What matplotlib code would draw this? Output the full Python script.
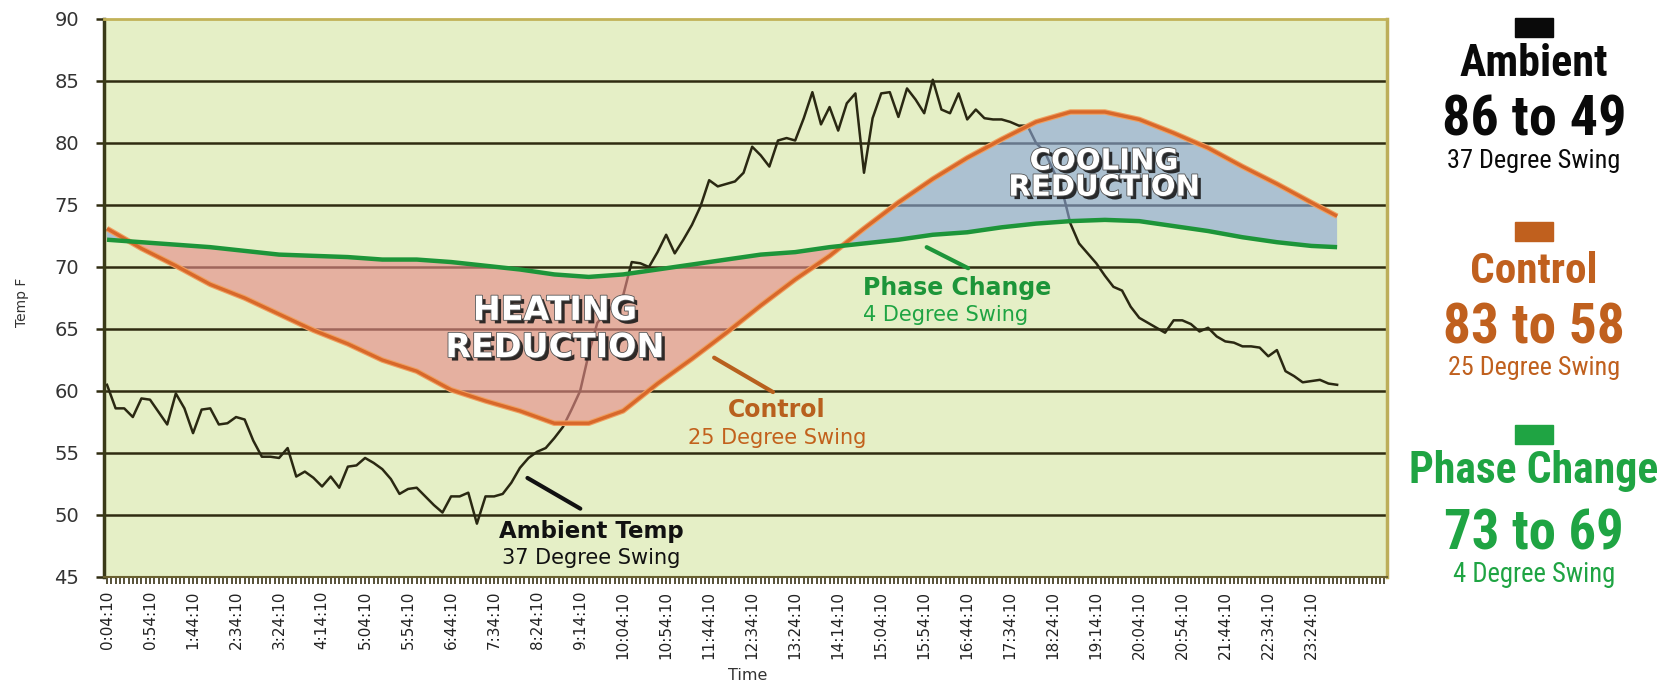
import numpy as np
import matplotlib
matplotlib.use("Agg")
import matplotlib.pyplot as plt
from matplotlib import patheffects as pe
from matplotlib.patches import Rectangle

# ---------------- data ----------------
time_labels = ["0:04:10", "0:54:10", "1:44:10", "2:34:10", "3:24:10", "4:14:10",
               "5:04:10", "5:54:10", "6:44:10", "7:34:10", "8:24:10", "9:14:10",
               "10:04:10", "10:54:10", "11:44:10", "12:34:10", "13:24:10", "14:14:10",
               "15:04:10", "15:54:10", "16:44:10", "17:34:10", "18:24:10", "19:14:10",
               "20:04:10", "20:54:10", "21:44:10", "22:34:10", "23:24:10"]
samples_per_label = 5          # one sample every 10 minutes, label every 50 minutes

ambient_temp = [60.5, 58.6, 58.6, 57.9, 59.4, 59.3, 58.3, 57.3, 59.8, 58.6,
                56.6, 58.5, 58.6, 57.3, 57.4, 57.9, 57.7, 56.0, 54.7, 54.7,
                54.6, 55.4, 53.1, 53.5, 53.0, 52.3, 53.1, 52.2, 53.9, 54.0,
                54.6, 54.2, 53.7, 52.9, 51.7, 52.1, 52.2, 51.5, 50.8, 50.2,
                51.5, 51.5, 51.8, 49.3, 51.5, 51.5, 51.7, 52.6, 53.8, 54.6,
                55.1, 55.4, 56.2, 57.1, 58.5, 60.0, 63.0, 65.5, 66.3, 67.0,
                67.7, 70.4, 70.3, 70.0, 71.2, 72.6, 71.1, 72.2, 73.4, 74.9,
                77.0, 76.5, 76.7, 76.9, 77.6, 79.7, 79.0, 78.1, 80.2, 80.4,
                80.2, 82.0, 84.1, 81.5, 82.9, 81.0, 83.2, 84.0, 77.6, 82.0,
                84.0, 84.1, 82.1, 84.4, 83.5, 82.4, 85.1, 82.7, 82.4, 84.0,
                81.9, 82.7, 82.0, 81.9, 81.9, 81.7, 81.4, 81.4, 80.0, 79.3,
                77.8, 76.3, 73.5, 71.9, 71.1, 70.3, 69.3, 68.4, 68.1, 66.8,
                65.9, 65.5, 65.1, 64.7, 65.7, 65.7, 65.4, 64.8, 65.1, 64.4,
                64.0, 63.9, 63.6, 63.6, 63.5, 62.8, 63.3, 61.6, 61.2, 60.7,
                60.8, 60.9, 60.6, 60.5]

smooth_idx = [0, 4, 8, 12, 16, 20, 24, 28, 32, 36, 40, 44, 48, 52, 56, 60, 64, 68,
              72, 76, 80, 84, 88, 92, 96, 100, 104, 108, 112, 116, 120, 124, 128,
              132, 136, 140, 143]
control_temp = [73.1, 71.5, 70.1, 68.6, 67.5, 66.2, 64.9, 63.8, 62.5, 61.6, 60.1,
                59.2, 58.4, 57.4, 57.4, 58.4, 60.6, 62.6, 64.7, 66.9, 69.0, 70.9,
                73.1, 75.2, 77.1, 78.8, 80.3, 81.7, 82.5, 82.5, 81.9, 80.8, 79.6,
                78.1, 76.7, 75.2, 74.1]
phase_temp = [72.2, 72.0, 71.8, 71.6, 71.3, 71.0, 70.9, 70.8, 70.6, 70.6, 70.4,
              70.1, 69.8, 69.4, 69.2, 69.4, 69.8, 70.2, 70.6, 71.0, 71.2, 71.6,
              71.9, 72.2, 72.6, 72.8, 73.2, 73.5, 73.7, 73.8, 73.7, 73.3, 72.9,
              72.4, 72.0, 71.7, 71.6]

legend_names = ["Ambient", "Control", "Phase Change"]
legend_ranges = ["86 to 49", "83 to 58", "73 to 69"]
legend_swings = ["37 Degree Swing", "25 Degree Swing", "4 Degree Swing"]

# ---------------- style ----------------
W, H = 1675, 684
BG = "#e5efc6"
GRID = "#2f2b10"
AMB_C = "#2a2812"
CTRL_C = "#d8682a"
PHASE_C = "#1d9539"
TXT_ORANGE = "#c2611c"
TXT_GREEN = "#1fa443"
PANEL_FAMILY = ["Roboto Condensed", "DejaVu Sans"]

def fx(x):
    return x / W

def fy(y):
    return 1 - y / H

fig = plt.figure(figsize=(W / 100, H / 100), dpi=100)
fig.patch.set_facecolor("white")
ax = fig.add_axes([fx(104), fy(577), fx(1387) - fx(104), fy(19) - fy(577)])
ax.set_facecolor(BG)

x_amb = np.arange(len(ambient_temp))
xs = np.array(smooth_idx)
ctrl = np.array(control_temp)
phase = np.array(phase_temp)

ax.set_xlim(-0.35, 148.8)
ax.set_ylim(45, 90)

# gridlines
for v in np.arange(50, 90, 5):
    ax.axhline(v, color=GRID, lw=1.8, zorder=1)

ax.plot(x_amb, ambient_temp, color=AMB_C, lw=1.8, zorder=2)

ax.fill_between(xs, ctrl, phase, where=ctrl <= phase, interpolate=True,
                color="#e58a8a", alpha=0.62, lw=0, zorder=3)
ax.fill_between(xs, ctrl, phase, where=ctrl >= phase, interpolate=True,
                color="#8aa6d8", alpha=0.62, lw=0, zorder=3)

ax.plot(xs, ctrl, color="#f0a060", lw=4.0, zorder=4, solid_capstyle="butt")
ax.plot(xs, ctrl, color=CTRL_C, lw=2.4, zorder=4, solid_capstyle="butt")
ax.plot(xs, phase, color=PHASE_C, lw=3.2, zorder=4, solid_capstyle="butt")

# spines
ax.spines["left"].set_color("#3a3a18")
ax.spines["left"].set_linewidth(2.5)
ax.spines["right"].set_color("#bcae5a")
ax.spines["right"].set_linewidth(2.5)
ax.spines["top"].set_color("#c2b258")
ax.spines["top"].set_linewidth(2.0)
ax.spines["bottom"].set_color("#6a6030")
ax.spines["bottom"].set_linewidth(1.5)
for s in ax.spines.values():
    s.set_zorder(6)

# y ticks
ax.set_yticks(np.arange(45, 91, 5))
ax.tick_params(axis="y", length=6, width=1.8, color="#2f2b10", pad=12,
               labelsize=14, labelcolor="#333333")
# x ticks
ax.set_xticks(np.arange(len(time_labels)) * samples_per_label)
ax.set_xticklabels(time_labels, rotation=90, fontsize=11, color="#222222")
ax.set_xticks(np.arange(0, 149, 0.5), minor=True)
ax.tick_params(axis="x", which="both", length=5, width=1.2, color="#3a3418", pad=5)

fig.text(fx(22), fy(302), "Temp F", rotation=90, fontsize=10, color="#333333",
         ha="center", va="center")
fig.text(fx(748), fy(676), "Time", fontsize=11.5, color="#333333",
         ha="center", va="center")

# region labels
shadow = [pe.withSimplePatchShadow(offset=(2.5, -2.5), shadow_rgbFace="#1a1a1a", alpha=0.9),
          pe.withStroke(linewidth=1.2, foreground="#555555")]
for txt, yv in (("HEATING", 66.5), ("REDUCTION", 63.5)):
    ax.text(52.1, yv, txt, fontsize=24, fontweight="heavy", color="white",
            ha="center", va="center", zorder=7, path_effects=shadow)
for txt, yv in (("COOLING", 78.5), ("REDUCTION", 76.4)):
    ax.text(115.9, yv, txt, fontsize=21, fontweight="heavy", color="white",
            ha="center", va="center", zorder=7, path_effects=shadow)

# series callouts
ax.annotate("", xy=(95.0, 71.7), xytext=(100.4, 69.8),
            arrowprops=dict(arrowstyle="-", color=PHASE_C, lw=3), zorder=7)
ax.text(87.9, 68.3, "Phase Change", fontsize=17, fontweight="bold", color=PHASE_C,
        ha="left", va="center", zorder=7)
ax.text(87.9, 66.1, "4 Degree Swing", fontsize=15, color=TXT_GREEN,
        ha="left", va="center", zorder=7)

ax.annotate("", xy=(70.3, 62.8), xytext=(77.7, 59.8),
            arrowprops=dict(arrowstyle="-", color="#b8601e", lw=3), zorder=7)
ax.text(77.9, 58.5, "Control", fontsize=17, fontweight="bold", color="#b8601e",
        ha="center", va="center", zorder=7)
ax.text(77.9, 56.2, "25 Degree Swing", fontsize=15, color=TXT_ORANGE,
        ha="center", va="center", zorder=7)

ax.annotate("", xy=(48.6, 53.1), xytext=(55.3, 50.4),
            arrowprops=dict(arrowstyle="-", color="#111111", lw=3), zorder=7)
ax.text(56.3, 48.7, "Ambient Temp", fontsize=16.5, fontweight="bold", color="#111111",
        ha="center", va="center", zorder=7)
ax.text(56.3, 46.5, "37 Degree Swing", fontsize=15, color="#111111",
        ha="center", va="center", zorder=7)

# right-hand legend panel (font sizes fitted to the reference text widths)
renderer = fig.canvas.get_renderer()

def fitted_text(x, y, s, width_px, weight, color):
    t = fig.text(fx(x), fy(y), s, family=PANEL_FAMILY, fontstretch="condensed",
                 fontweight=weight, fontsize=20, color=color, ha="center", va="baseline")
    w = t.get_window_extent(renderer).width
    t.set_fontsize(20 * width_px / w)
    return t

cx = 1534
panel_colors = ["#0a0a0a", "#c0601e", "#1fa443"]
square_tops = [18, 222, 425]
name_base = [76, 283, 483]
name_width = [148, 128, 249]
range_base = [135, 343, 549]
range_width = [185, 182, 180]
swing_base = [168, 375, 582]
swing_width = [173, 172, 162]
for k in range(3):
    c = panel_colors[k]
    fig.patches.append(Rectangle((fx(cx - 19), fy(square_tops[k] + 19)), fx(38), 19 / H,
                                 transform=fig.transFigure, color=c, zorder=5))
    fitted_text(cx, name_base[k], legend_names[k], name_width[k], "bold", c)
    fitted_text(cx, range_base[k], legend_ranges[k], range_width[k], "bold", c)
    fitted_text(cx, swing_base[k], legend_swings[k], swing_width[k], "normal", c)

fig.savefig("out.png", dpi=100, facecolor="white")
